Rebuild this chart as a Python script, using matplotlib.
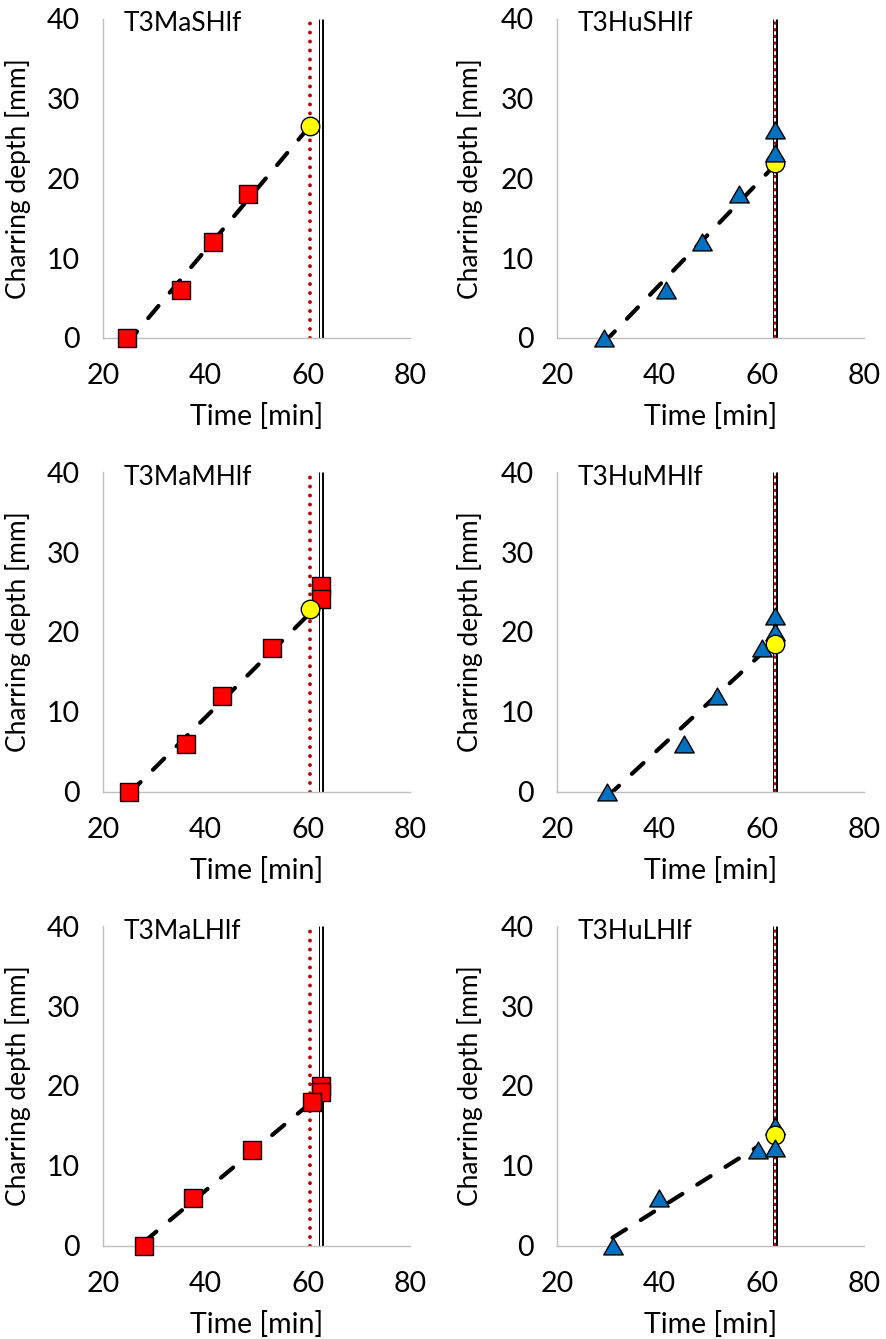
import matplotlib
matplotlib.use("Agg")
import matplotlib.pyplot as plt
from matplotlib.path import Path

plt.rcParams['font.family'] = ['Lato', 'DejaVu Sans']
plt.rcParams['font.size'] = 18

# ---- panel names ----
names = ["T3MaSHlf", "T3HuSHlf", "T3MaMHlf", "T3HuMHlf", "T3MaLHlf", "T3HuLHlf"]

# ---- measured charring depth [mm] vs time [min] (listed in drawing order) ----
maS_time = [24.6, 35.2, 41.5, 48.4]
maS_depth = [0, 6, 12, 18]
huS_time = [29.1, 41.3, 48.4, 55.5, 62.5]
huS_depth = [0, 6, 12, 18, 26]
maM_time = [62.5, 62.5, 25.1, 36.2, 43.3, 53.0]
maM_depth = [25.7, 24.1, 0, 6, 12, 18]
huM_time = [62.5, 62.5, 29.8, 44.7, 51.2, 60.0]
huM_depth = [22, 20, 0, 6, 12, 18]
maL_time = [62.5, 62.5, 28.0, 37.6, 49.0, 60.8]
maL_depth = [20, 19.2, 0, 6, 12, 18]
huL_time = [62.5, 30.8, 39.8, 59.2]
huL_depth = [15, 0, 6, 12]

# points drawn above the predicted-value marker
huS_top_time, huS_top_depth = [62.5], [23.2]
huL_top_time, huL_top_depth = [62.5], [12.2]

# ---- predicted depth at end of fire (yellow circles) ----
pred_time = [60.5, 62.5, 60.5, 62.5, None, 62.5]
pred_depth = [26.6, 21.9, 22.9, 18.5, None, 13.9]

# ---- dashed trend lines: (start time, start depth, end time, end depth) ----
trend_t0 = [24.6, 29.1, 25.1, 29.8, 28.0, 30.8]
trend_d0 = [-0.7, -0.6, -0.2, -0.6, 0.5, 1.0]
trend_t1 = [60.5, 62.5, 60.5, 60.0, 60.8, 59.2]
trend_d1 = [26.6, 21.6, 22.4, 17.3, 18.0, 12.4]

# ---- vertical reference times [min] ----
dotted_time = [60.5, 62.5, 60.5, 62.5, 60.5, 62.5]
double_time = [62.5, 62.5, 62.5, 62.5, 62.5, 62.5]

x_ticks = [20, 40, 60, 80]
y_ticks = [0, 10, 20, 30, 40]

series_time = [maS_time, huS_time, maM_time, huM_time, maL_time, huL_time]
series_depth = [maS_depth, huS_depth, maM_depth, huM_depth, maL_depth, huL_depth]
top_time = [None, huS_top_time, None, None, None, huL_top_time]
top_depth = [None, huS_top_depth, None, None, None, huL_top_depth]

tri = Path([(0, 0.433), (-0.5, -0.433), (0.5, -0.433), (0, 0.433)],
           [Path.MOVETO, Path.LINETO, Path.LINETO, Path.CLOSEPOLY])

W, H = 886, 1339
fig = plt.figure(figsize=(W / 100, H / 100), dpi=100)

col_left = [103.3, 557.3]
col_w = 306.7
row_bottom = [338.0, 791.7, 1245.7]
row_h = 319.5

axis_grey = "#BFBFBF"
red_dot = "#C00000"

for i in range(6):
    r, c = divmod(i, 2)
    left = col_left[c] / W
    bottom = 1 - row_bottom[r] / H
    ax = fig.add_axes([left, bottom, col_w / W, row_h / H])
    ax.set_xlim(20, 80)
    ax.set_ylim(0, 40)
    ax.set_xticks(x_ticks)
    ax.set_yticks(y_ticks)
    for s in ("top", "right"):
        ax.spines[s].set_visible(False)
    for s in ("left", "bottom"):
        ax.spines[s].set_color(axis_grey)
        ax.spines[s].set_linewidth(1.0)
    ax.tick_params(axis="both", length=0, labelsize=20.5)
    ax.tick_params(axis="y", pad=17)
    ax.tick_params(axis="x", pad=18)

    is_ma = (c == 0)
    face = "#FF0000" if is_ma else "#0070C0"
    marker = "s" if is_ma else tri
    ms = 13.3 if is_ma else 14

    # double vertical line
    ax.plot([double_time[i]] * 2, [0, 40], color="black", lw=3.6, zorder=1,
            solid_capstyle="butt")
    ax.plot([double_time[i]] * 2, [0, 40], color="white", lw=1.5, zorder=1.1,
            solid_capstyle="butt")
    # dotted vertical line
    if is_ma:
        ax.plot([dotted_time[i]] * 2, [0, 40], color=red_dot, lw=2.8,
                linestyle=(0, (0.01, 2.3)), dash_capstyle="round", zorder=1.2)
    else:
        ax.plot([dotted_time[i]] * 2, [0, 40], color=red_dot, lw=1.6,
                linestyle=(0, (1.4, 1.6)), zorder=1.2)

    # trend line
    ax.plot([trend_t0[i], trend_t1[i]], [trend_d0[i], trend_d1[i]],
            color="black", lw=3.0, linestyle=(0, (3.8, 4.2)),
            dash_capstyle="round", zorder=2)

    # measured points
    ax.plot(series_time[i], series_depth[i], linestyle="none", marker=marker,
            ms=ms, mfc=face, mec="black", mew=1.0, zorder=3, clip_on=False)

    # predicted value
    if pred_time[i] is not None:
        ax.plot([pred_time[i]], [pred_depth[i]], linestyle="none", marker="o",
                ms=13.3, mfc="#FFFF00", mec="black", mew=1.0, zorder=4,
                clip_on=False)

    if top_time[i] is not None:
        ax.plot(top_time[i], top_depth[i], linestyle="none", marker=marker,
                ms=ms, mfc=face, mec="black", mew=1.0, zorder=5, clip_on=False)

    ax.text(23.9, 38.4, names[i], fontsize=19, va="baseline", ha="left")

    ax.set_xlabel("Time [min]", fontsize=20.5)
    ax.set_ylabel("Charring depth [mm]", fontsize=19)
    ax.xaxis.set_label_coords(0.5, -0.205)
    ax.yaxis.set_label_coords(-0.235 if c == 0 else -0.242, 0.5)

fig.savefig("out.png", dpi=100)
